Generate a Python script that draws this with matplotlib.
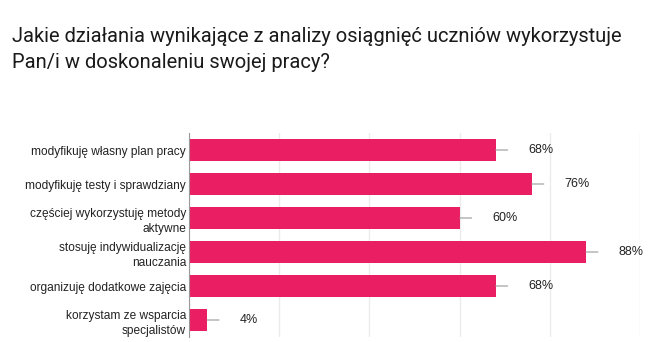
import matplotlib
matplotlib.use("Agg")
import matplotlib.pyplot as plt

categories = [
    "modyfikuję własny plan pracy",
    "modyfikuję testy i sprawdziany",
    "częściej wykorzystuję metody\naktywne",
    "stosuję indywidualizację\nnauczania",
    "organizuję dodatkowe zajęcia",
    "korzystam ze wsparcia\nspecjalistów",
]
values = [68, 76, 60, 88, 68, 4]
title = "Jakie działania wynikające z analizy osiągnięć uczniów wykorzystuje\nPan/i w doskonaleniu swojej pracy?"

BAR = "#e91e63"

fig = plt.figure(figsize=(6.52, 3.42), dpi=100)
fig.text(12 / 652, 1 - 27 / 342, title, ha="left", va="top",
         fontsize=14.5, family="Roboto", color="#1a1a1a", linespacing=1.5)

ax = fig.add_axes([189 / 652, 5 / 342, 451 / 652, 204 / 342])
y = list(range(len(categories)))
ax.barh(y, values, height=0.62, color=BAR, zorder=2)
ax.set_xlim(0, 100)
ax.set_ylim(len(categories) - 0.5, -0.5)
ax.set_xticks([0, 20, 40, 60, 80, 100])
ax.xaxis.grid(True, color="#ebebeb", linewidth=1, zorder=0)
ax.tick_params(axis="x", length=0, labelbottom=False)
ax.tick_params(axis="y", length=0, pad=2)
ax.set_yticks(y)
ax.set_yticklabels(categories, fontsize=8.6, family="Liberation Sans",
                   color="#222222", linespacing=1.4)
for s in ("top", "right", "bottom"):
    ax.spines[s].set_visible(False)
ax.spines["left"].set_color("#999999")
ax.spines["left"].set_zorder(3)

for yi, v in zip(y, values):
    ax.annotate("", xy=(v, yi), xytext=(12, 0), textcoords="offset pixels",
                arrowprops=dict(arrowstyle="-", color="#999999", lw=0.8,
                                shrinkA=0, shrinkB=0))
    ax.annotate(f"{v}%", xy=(v, yi), xytext=(33, 0), textcoords="offset pixels",
                ha="left", va="center", fontsize=9, family="Liberation Sans",
                color="#222222")

fig.savefig("out.png", dpi=100)
